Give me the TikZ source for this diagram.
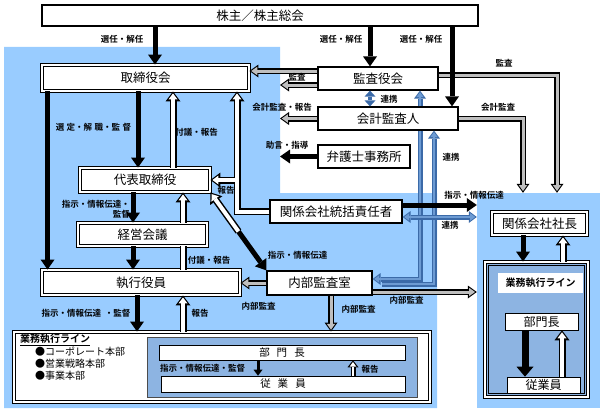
\documentclass[tikz,border=0pt]{standalone}
\usepackage{fontspec}
\setmainfont{Noto Sans CJK JP}[BoldFont={Noto Sans CJK JP Bold}]
\usetikzlibrary{arrows.meta,positioning,calc}
\definecolor{areablue}{HTML}{99CCFF}
\definecolor{lineblue}{HTML}{8DB4E2}
\definecolor{wireblue}{HTML}{3B6AA8}
\definecolor{wirelight}{HTML}{6D9BD3}
\definecolor{auditgray}{HTML}{BFBFBF}
\tikzset{area/.style={fill=areablue, inner sep=0pt}}
\tikzset{box/.style={draw, line width=1.2pt, fill=white, inner sep=0pt, minimum height=23pt, font=\fontsize{12.5}{14}\selectfont}}
\tikzset{dbox/.style={box, double, double distance=1.4pt, line width=0.9pt}}
\tikzset{lbl/.style={inner sep=0pt, font=\fontsize{8.5}{10}\selectfont\bfseries}}
\tikzset{blk/.style={draw, line width=5pt, -{Triangle[width=14pt, length=10pt, line width=0pt]}}}
\tikzset{blksm/.style={draw, line width=3pt, -{Triangle[width=9pt, length=6pt, line width=0pt]}}}
\tikzset{hol/.style={draw, line width=7pt, -{Triangle[width=15pt, length=10pt, line width=0pt]}, postaction={draw=white, line width=4pt, shorten >=2pt, -{Triangle[width=9pt, length=6pt, line width=0pt]}}}}
\tikzset{holsm/.style={draw, line width=5pt, -{Triangle[width=11pt, length=7pt, line width=0pt]}, postaction={draw=white, line width=2.4pt, shorten >=1.7pt, -{Triangle[width=6.5pt, length=4.5pt, line width=0pt]}}}}
\tikzset{holline/.style={draw, line width=7pt, postaction={draw=white, line width=4pt}}}
\tikzset{gry/.style={draw, line width=6pt, -{Triangle[width=13pt, length=9pt, line width=0pt]}, postaction={draw=auditgray, line width=3pt, shorten >=1.8pt, -{Triangle[width=8.5pt, length=6pt, line width=0pt]}}}}
\tikzset{bluend/.style={draw=wireblue, line width=5pt, -{Triangle[width=12pt, length=8pt, line width=0pt]}, postaction={draw=wirelight, line width=2.2pt, shorten >=1.6pt, -{Triangle[width=7.5pt, length=5pt, line width=0pt]}}}}
\tikzset{bluboth/.style={draw=wireblue, line width=5pt, {Triangle[width=12pt, length=8pt, line width=0pt]}-{Triangle[width=12pt, length=8pt, line width=0pt]}, postaction={draw=wirelight, line width=2.2pt, shorten <=1.6pt, shorten >=1.6pt, {Triangle[width=7.5pt, length=5pt, line width=0pt]}-{Triangle[width=7.5pt, length=5pt, line width=0pt]}}}}
\tikzset{blushort/.style={draw=wireblue, line width=4.5pt, {Triangle[width=11pt, length=6pt, line width=0pt]}-{Triangle[width=11pt, length=6pt, line width=0pt]}}}

\begin{document}
\begin{tikzpicture}[x=1pt, y=-1pt]
	\useasboundingbox (0,0) rectangle (604,412);
	\fill[areablue] (4,47) -- (280,47) -- (280,193) -- (437,193) -- (437,408) -- (4,408) -- cycle;
	\coordinate (edgeL) at (280,47);
	\node[area, minimum width=123pt, minimum height=215pt] (areaR) at (538.5,300.5) {};

	\node[box, line width=2.8pt, minimum width=436pt, minimum height=21pt] (kabu) at (260,15.5) {株主／株主総会};
	\node[dbox, minimum width=207pt, minimum height=26pt] (tori) at (145.5,78) {取締役会};
	\node[box, minimum width=120pt] (kansa) at (378,78.5) {監査役会};
	\node[box, minimum width=140pt] (kaikei) at (388,118.5) {会計監査人};
	\node[box, minimum width=92pt] (bengo) at (364,156.5) {弁護士事務所};
	\node[dbox, minimum width=130pt, minimum height=24pt] (daihyo) at (145,180) {代表取締役};
	\node[dbox, minimum width=129pt] (keiei) at (142.5,234.5) {経営会議};
	\node[dbox, minimum width=198pt, minimum height=25pt] (shikko) at (141,282.5) {執行役員};
	\node[box, minimum width=105pt, minimum height=24pt] (naibu) at (319.5,283) {内部監査室};
	\node[box, minimum width=132pt] (kankei) at (336,211.5) {関係会社統括責任者};
	\node[dbox, minimum width=95pt] (shacho) at (539.5,223.5) {関係会社社長};

	\node[dbox, fill=lineblue, minimum width=103pt, minimum height=135pt] (gyomuR) at (536.5,329.5) {};
	\draw[line width=0.8pt] ([shift={(4pt,-4pt)}]gyomuR.north west) rectangle ([shift={(-4pt,4pt)}]gyomuR.south east);
	\node[fill=white, minimum width=85pt, minimum height=20pt, inner sep=0pt, font=\fontsize{10}{12}\selectfont\bfseries] (lineR) at (540.5,283) {業務執行ライン};
	\node[box, line width=0.6pt, minimum width=73pt, minimum height=17pt, font=\fontsize{12}{14}\selectfont] (bumonR) at (541.5,321.5) {部門長};
	\node[box, line width=0.6pt, minimum width=73pt, minimum height=16pt, font=\fontsize{12}{14}\selectfont] (jugyoR) at (543.5,385) {従業員};

	\node[dbox, minimum width=416pt, minimum height=70pt] (gyomuL) at (222,367) {};
	\node[anchor=north west, inner sep=0pt, align=left, font=\fontsize{10}{12.3}\selectfont] (listL) at (20,334) {\textbf{\underline{業務執行ライン}}\\\hspace{15pt}●コーポレート本部\\\hspace{15pt}●営業戦略本部\\\hspace{15pt}●事業本部};
	\node[draw=black!70, line width=0.6pt, fill=lineblue, minimum width=270pt, minimum height=60pt, inner sep=0pt] (innerL) at (282,367) {};
	\node[box, line width=0.6pt, minimum width=246pt, minimum height=15pt, font=\fontsize{10.5}{12}\selectfont] (bumonL) at (282,352.5) {部\hspace{7pt}門\hspace{7pt}長};
	\node[box, line width=0.6pt, minimum width=244pt, minimum height=16pt, font=\fontsize{10.5}{12}\selectfont] (jugyoL) at (283,384) {従\hspace{7pt}業\hspace{7pt}員};

	\draw[blushort] ([xshift=-8pt]kansa.south) -- ([xshift=-8pt]kansa.south |- kaikei.north);
	\draw[bluend] ([xshift=9pt,yshift=-1pt]naibu.east) -| ([xshift=46pt]kaikei.south);
	\draw[bluend] ([xshift=32pt]kaikei.south) |- ([yshift=4pt]naibu.east);
	\draw[bluend] ([xshift=32pt]kaikei.north) -- ([xshift=42pt]kansa.south);
	\draw[bluboth] ([yshift=-5.5pt]kankei.east) -- ([yshift=-5.5pt]kankei.east -| areaR.west);

	\draw[gry] ([yshift=7.5pt]kansa.west) -- ([yshift=7.5pt]kansa.west -| tori.east);
	\draw[gry] ([yshift=-6.5pt]kansa.west) -- ([yshift=-6.5pt]kansa.west -| edgeL);
	\draw[gry] (kaikei.west) -- (kaikei.west -| edgeL);
	\draw[gry] ([yshift=3.5pt]kansa.east) -| ([xshift=18.5pt]areaR.north);
	\draw[gry] (kaikei.east) -| ([xshift=-15.5pt]areaR.north);
	\draw[gry] (naibu.west) -- (naibu.west -| shikko.east);
	\draw[gry] ([xshift=11.5pt]naibu.south) -- ([xshift=11.5pt]naibu.south |- gyomuL.north);
	\draw[gry] ([yshift=-9pt]naibu.east) -- ([yshift=-9pt]naibu.east -| areaR.west);

	\draw[blk] ([xshift=9.5pt]tori.north |- kabu.south) -- ([xshift=9.5pt]tori.north);
	\draw[blk] ([xshift=-8pt]kansa.north |- kabu.south) -- ([xshift=-8pt]kansa.north);
	\draw[blk] ([xshift=64pt]kaikei.north |- kabu.south) -- ([xshift=64pt]kaikei.north);
	\draw[blk] ([xshift=6pt]tori.south west) -- ([xshift=6pt]shikko.north west);
	\draw[blk] ([xshift=-7pt]daihyo.north |- tori.south) -- ([xshift=-7pt]daihyo.north);
	\draw[blk] ([xshift=-12pt]daihyo.south) -- ([xshift=-12pt]daihyo.south |- keiei.north);
	\draw[blk] ([xshift=-9.5pt]keiei.south) -- ([xshift=-9.5pt]keiei.south |- shikko.north);
	\draw[blk] ([xshift=-4pt]shikko.south) -- ([xshift=-4pt]shikko.south |- gyomuL.north);
	\draw[blk] (bengo.west) -- (bengo.west -| edgeL);
	\draw[blk] ([yshift=6.5pt]kankei.east) -- ([yshift=6.5pt]kankei.east -| areaR.west);
	\draw[blk] ([xshift=-16.5pt]shacho.south) -- ([xshift=-16.5pt]shacho.south |- gyomuR.north);
	\draw[blk, line width=7pt, -{Triangle[width=17pt, length=10pt, line width=0pt]}] ([xshift=-16.5pt]bumonR.south) -- ([xshift=-16.5pt]bumonR.south |- jugyoR.north);
	\draw[blksm] ([xshift=-24pt]bumonL.south) -- ([xshift=-24pt]bumonL.south |- jugyoL.north);

	\coordinate (dmid) at ($(daihyo.south east)!0.5!(naibu.north west)$);
	\draw[blk] (dmid) -- (naibu.north west);
	\draw[hol] (dmid) -- (daihyo.south east);
	\draw[hol] ([xshift=28pt]daihyo.north) -- ([xshift=28pt]daihyo.north |- tori.south);
	\draw[hol] (kankei.west) -| ([xshift=91.5pt]tori.south);
	\draw[hol] ([xshift=89.5pt]tori.south |- daihyo.east) -- (daihyo.east);
	\draw[holline] ([xshift=40.5pt]keiei.south |- shikko.north) -- ([xshift=40.5pt]keiei.south);
	\draw[hol] ([xshift=38pt]daihyo.south |- keiei.north) -- ([xshift=38pt]daihyo.south);
	\draw[hol] ([xshift=42pt]shikko.south |- gyomuL.north) -- ([xshift=42pt]shikko.south);
	\draw[hol] ([xshift=23.5pt]shacho.south |- gyomuR.north) -- ([xshift=23.5pt]shacho.south);
	\draw[hol] ([xshift=20.5pt]bumonR.south |- jugyoR.north) -- ([xshift=20.5pt]bumonR.south);
	\draw[holsm] ([xshift=71pt]bumonL.south |- jugyoL.north) -- ([xshift=71pt]bumonL.south);

	\node[lbl] (senA) at (122,39) {選任・解任};
	\node[lbl] (senB) at (341,39) {選任・解任};
	\node[lbl] (senC) at (421,39) {選任・解任};
	\node[lbl] (kanA) at (297,77) {監査};
	\node[lbl] (kaiA) at (282,107) {会計監査・報告};
	\node[lbl] (jogen) at (287,145) {助言・指導};
	\node[lbl] (renA) at (389,99) {連携};
	\node[lbl] (kanB) at (504,63) {監査};
	\node[lbl] (kaiB) at (498,107) {会計監査};
	\node[lbl] (renB) at (451,157) {連携};
	\node[lbl] (shijiA) at (474,195) {指示・情報伝達};
	\node[lbl] (renC) at (450,225) {連携};
	\node[lbl] (sentei) at (93.5,127) {選\hspace{2.5pt}定・解\hspace{2.5pt}職・監\hspace{2.5pt}督};
	\node[lbl] (fugiA) at (196.5,132) {付議・報告};
	\node[lbl] (hokA) at (226,190) {報告};
	\node[lbl, align=right, anchor=east] (shijiB) at (130,209.5) {指示・情報伝達・\\監督};
	\node[lbl] (fugiB) at (209,260) {付議・報告};
	\node[lbl] (shijiC) at (297.5,255) {指示・情報伝達};
	\node[lbl] (naiA) at (258.5,306) {内部監査};
	\node[lbl] (naiB) at (358.5,309) {内部監査};
	\node[lbl] (naiC) at (406.5,300) {内部監査};
	\node[lbl] (shijiD) at (86,313) {指示・情報伝達\hspace{4pt}・監督};
	\node[lbl] (hokB) at (200,313) {報告};
	\node[lbl] (shijiE) at (202.5,368) {指示・情報伝達・監督};
	\node[lbl] (hokC) at (370,369) {報告};
\end{tikzpicture}
\end{document}
